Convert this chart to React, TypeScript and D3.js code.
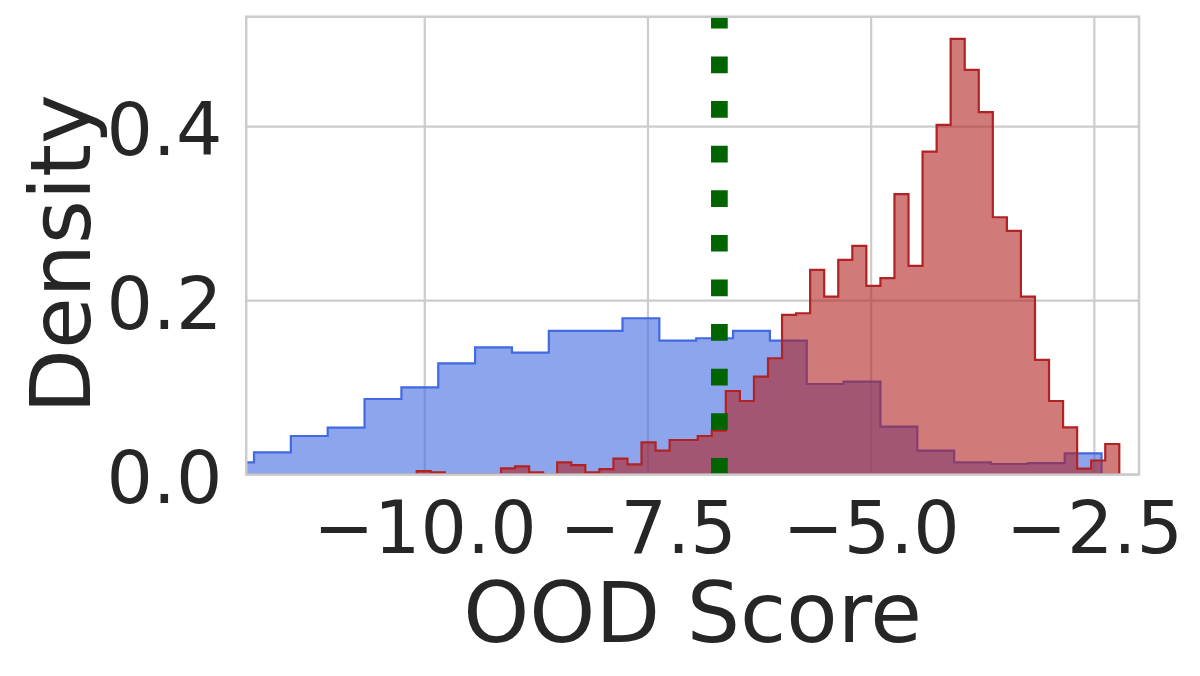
import React from "react";
import * as d3 from "d3";

// ---- data ----
const xTicks = [-10, -7.5, -5, -2.5];
const yTicks = [0, 0.2, 0.4];

// In-distribution histogram (blue): first bin start and bin width, densities per bin
const blueBinStart = -12.3254;
const blueBinWidth = 0.41275;
const blueDensity = [
  0.0141, 0.0256, 0.0444, 0.0539, 0.0869, 0.1004, 0.128, 0.1464, 0.1402, 0.1652,
  0.1652, 0.1798, 0.154, 0.1568, 0.1652, 0.154, 0.1042, 0.1068, 0.0551, 0.0275,
  0.0141, 0.0122, 0.0133, 0.0245,
];

// OOD histogram (red)
const redBinStart = -10.0903;
const redBinWidth = 0.15739;
const redDensity = [
  0.0041, 0.0026, 0, 0, 0, 0, 0.0072, 0.0095, 0.0026, 0,
  0.0141, 0.011, 0.0026, 0.0064, 0.0183, 0.0118, 0.0371, 0.0275, 0.0398, 0.0398,
  0.0444, 0.0505, 0.0961, 0.0846, 0.1126, 0.1338, 0.1836, 0.1855, 0.2353, 0.2046,
  0.2468, 0.2629, 0.2169, 0.2258, 0.3224, 0.2399, 0.3714, 0.4021, 0.501, 0.4653,
  0.4167, 0.2959, 0.2802, 0.2046, 0.1318, 0.0846, 0.0544, 0.0068, 0.0162, 0.0352,
];

const threshold = -6.7;
const xDomain: [number, number] = [-12, -2];
const yDomain: [number, number] = [0, 0.5265];

// ---- layout ----
const W = 1200;
const H = 676;
const plot = { left: 246.2, right: 1139, top: 16.7, bottom: 474.6 };
const FONT = "'DejaVu Sans', sans-serif";
const TEXT = "#262626";
const GRID = "#cccccc";

const x = d3.scaleLinear().domain(xDomain).range([plot.left, plot.right]);
const y = d3.scaleLinear().domain(yDomain).range([plot.bottom, plot.top]);
const fmt = d3.format(".1f");

function stepPoints(start: number, width: number, vals: number[]): [number, number][] {
  const pts: [number, number][] = [[start, 0]];
  vals.forEach((v, i) => {
    pts.push([start + i * width, v]);
    pts.push([start + (i + 1) * width, v]);
  });
  pts.push([start + vals.length * width, 0]);
  return pts;
}

const line = d3
  .line<[number, number]>()
  .x((d) => x(d[0]))
  .y((d) => y(d[1]));

const bluePath = line(stepPoints(blueBinStart, blueBinWidth, blueDensity)) + "Z";
const redPath = line(stepPoints(redBinStart, redBinWidth, redDensity)) + "Z";

export default function App() {
  return (
    <svg
      width={W}
      height={H}
      viewBox={`0 0 ${W} ${H}`}
      style={{ position: "absolute", left: 0, top: 0, background: "#fff" }}
    >
      <defs>
        <clipPath id="plotclip">
          <rect x={plot.left} y={plot.top} width={plot.right - plot.left} height={plot.bottom - plot.top} />
        </clipPath>
      </defs>
      <rect x={0} y={0} width={W} height={H} fill="#fff" />
      {/* grid */}
      <g stroke={GRID} strokeWidth={2.2}>
        {xTicks.map((t) => (
          <line key={"gx" + t} x1={x(t)} x2={x(t)} y1={plot.top} y2={plot.bottom} />
        ))}
        {yTicks.map((t) => (
          <line key={"gy" + t} x1={plot.left} x2={plot.right} y1={y(t)} y2={y(t)} />
        ))}
      </g>
      <g clipPath="url(#plotclip)">
        <path d={bluePath} fill="royalblue" fillOpacity={0.6} stroke="royalblue" strokeWidth={2.2} strokeLinejoin="miter" />
        <path d={redPath} fill="firebrick" fillOpacity={0.6} stroke="firebrick" strokeWidth={2.2} strokeLinejoin="miter" />
        <line
          x1={x(threshold)}
          x2={x(threshold)}
          y1={plot.bottom}
          y2={plot.top}
          stroke="#006400"
          strokeWidth={16.7}
          strokeDasharray="16.7 27.9"
          strokeLinecap="butt"
        />
      </g>
      {/* spines */}
      <rect
        x={plot.left}
        y={plot.top}
        width={plot.right - plot.left}
        height={plot.bottom - plot.top}
        fill="none"
        stroke={GRID}
        strokeWidth={2.5}
      />
      {/* tick labels */}
      <g fill={TEXT} fontFamily={FONT} fontSize={73}>
        {xTicks.map((t) => (
          <text key={"tx" + t} x={x(t)} y={553} textAnchor="middle">
            {fmt(t)}
          </text>
        ))}
        {yTicks.map((t) => (
          <text key={"ty" + t} x={222.5} y={y(t) + 28.5} textAnchor="end">
            {fmt(t)}
          </text>
        ))}
      </g>
      {/* axis labels */}
      <text
        x={(plot.left + plot.right) / 2}
        y={642}
        textAnchor="middle"
        fill={TEXT}
        fontFamily={FONT}
        fontSize={84}
      >
        OOD Score
      </text>
      <text
        transform={`translate(90,254) rotate(-90)`}
        textAnchor="middle"
        fill={TEXT}
        fontFamily={FONT}
        fontSize={84}
      >
        Density
      </text>
    </svg>
  );
}
